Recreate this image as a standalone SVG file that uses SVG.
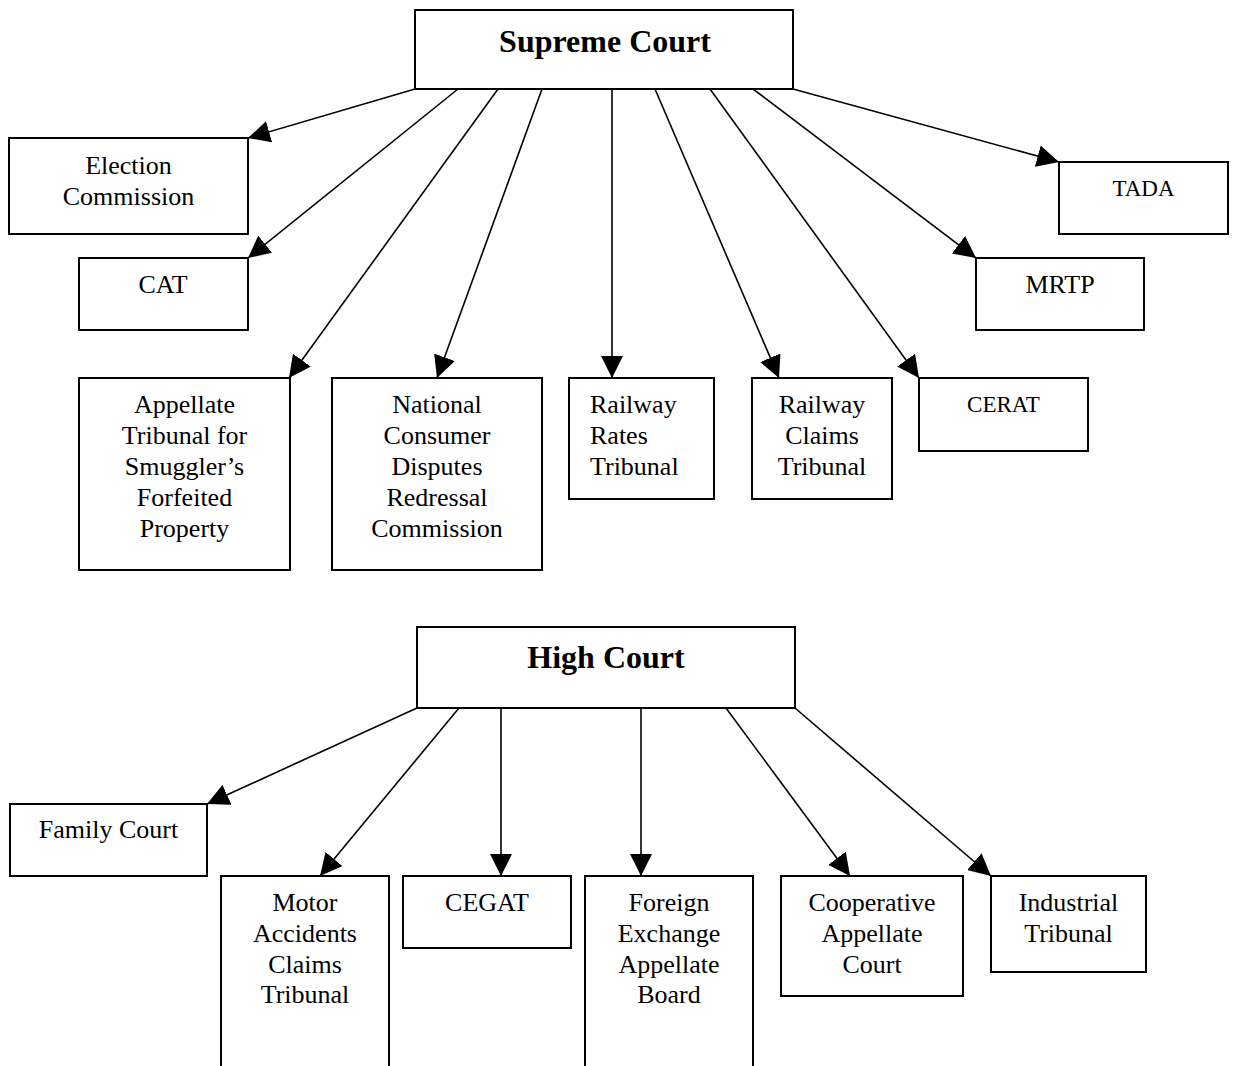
<svg xmlns="http://www.w3.org/2000/svg" width="1237" height="1066" viewBox="0 0 1237 1066">
<style>
.box{fill:#fff;stroke:#000;stroke-width:2}
.t{font-family:"Liberation Serif","Times New Roman",serif;font-size:26px;fill:#000;text-anchor:middle}
.s{font-size:23px}
.b{font-weight:bold;font-size:32px}
.l{text-anchor:start}
.c line{stroke:#000;stroke-width:1.6;marker-end:url(#ah)}
</style>
<defs>
<marker id="ah" markerUnits="userSpaceOnUse" markerWidth="22" markerHeight="22" refX="22" refY="11" orient="auto" viewBox="0 0 22 22">
<path d="M0,0 L22,11 L0,22 z" fill="#000"/>
</marker>
</defs>
<rect width="1237" height="1066" fill="#fff"/>
<g id="connectors" class="c">
<line x1="415" y1="89" x2="248" y2="138"/>
<line x1="458" y1="89" x2="248" y2="258"/>
<line x1="498" y1="89" x2="289" y2="378"/>
<line x1="542" y1="89" x2="437" y2="378"/>
<line x1="612" y1="89" x2="612" y2="378"/>
<line x1="655" y1="89" x2="779" y2="378"/>
<line x1="710" y1="89" x2="919" y2="378"/>
<line x1="753" y1="89" x2="976" y2="258"/>
<line x1="793" y1="89" x2="1059" y2="162"/>
<line x1="417" y1="708" x2="207" y2="804"/>
<line x1="459" y1="708" x2="320" y2="876"/>
<line x1="501" y1="708" x2="501" y2="876"/>
<line x1="641" y1="708" x2="641" y2="876"/>
<line x1="726" y1="708" x2="850" y2="876"/>
<line x1="795" y1="708" x2="991" y2="876"/>
</g>
<g id="supreme-court"><rect class="box" x="415" y="10" width="378" height="79"/><text class="t b" x="605" y="52">Supreme Court</text></g>
<g id="election-commission"><rect class="box" x="9" y="138" width="239" height="96"/><text class="t" x="128.5" y="174">Election</text><text class="t" x="128.5" y="205">Commission</text></g>
<g id="cat"><rect class="box" x="79" y="258" width="169" height="72"/><text class="t" x="163" y="293">CAT</text></g>
<g id="tada"><rect class="box" x="1059" y="162" width="169" height="72"/><text class="t s" x="1143.5" y="196">TADA</text></g>
<g id="mrtp"><rect class="box" x="976" y="258" width="168" height="72"/><text class="t" x="1060" y="293">MRTP</text></g>
<g id="appellate-tribunal"><rect class="box" x="79" y="378" width="211" height="192"/><text class="t" x="184.5" y="413">Appellate</text><text class="t" x="184.5" y="444">Tribunal for</text><text class="t" x="184.5" y="475">Smuggler’s</text><text class="t" x="184.5" y="506">Forfeited</text><text class="t" x="184.5" y="537">Property</text></g>
<g id="national-consumer"><rect class="box" x="332" y="378" width="210" height="192"/><text class="t" x="437" y="413">National</text><text class="t" x="437" y="444">Consumer</text><text class="t" x="437" y="475">Disputes</text><text class="t" x="437" y="506">Redressal</text><text class="t" x="437" y="537">Commission</text></g>
<g id="railway-rates"><rect class="box" x="569" y="378" width="145" height="121"/><text class="t l" x="590" y="413">Railway</text><text class="t l" x="590" y="444">Rates</text><text class="t l" x="590" y="475">Tribunal</text></g>
<g id="railway-claims"><rect class="box" x="752" y="378" width="140" height="121"/><text class="t" x="822" y="413">Railway</text><text class="t" x="822" y="444">Claims</text><text class="t" x="822" y="475">Tribunal</text></g>
<g id="cerat"><rect class="box" x="919" y="378" width="169" height="73"/><text class="t s" x="1003.5" y="412">CERAT</text></g>
<g id="high-court"><rect class="box" x="417" y="627" width="378" height="81"/><text class="t b" x="606" y="668">High Court</text></g>
<g id="family-court"><rect class="box" x="10" y="804" width="197" height="72"/><text class="t" x="108.5" y="838">Family Court</text></g>
<g id="motor-accidents"><rect class="box" x="221" y="876" width="168" height="200"/><text class="t" x="305" y="911">Motor</text><text class="t" x="305" y="942">Accidents</text><text class="t" x="305" y="973">Claims</text><text class="t" x="305" y="1003">Tribunal</text></g>
<g id="cegat"><rect class="box" x="403" y="876" width="168" height="72"/><text class="t" x="487" y="911">CEGAT</text></g>
<g id="foreign-exchange"><rect class="box" x="585" y="876" width="168" height="200"/><text class="t" x="669" y="911">Foreign</text><text class="t" x="669" y="942">Exchange</text><text class="t" x="669" y="973">Appellate</text><text class="t" x="669" y="1003">Board</text></g>
<g id="cooperative-appellate"><rect class="box" x="781" y="876" width="182" height="120"/><text class="t" x="872" y="911">Cooperative</text><text class="t" x="872" y="942">Appellate</text><text class="t" x="872" y="973">Court</text></g>
<g id="industrial-tribunal"><rect class="box" x="991" y="876" width="155" height="96"/><text class="t" x="1068.5" y="911">Industrial</text><text class="t" x="1068.5" y="942">Tribunal</text></g>
</svg>
